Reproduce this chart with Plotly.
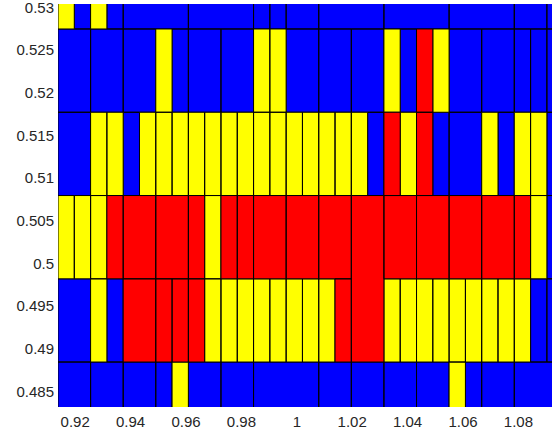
import plotly.graph_objects as go

# Fine grid edges (data units)
x_edges = [0.91379, 0.91967, 0.92556, 0.93144, 0.93732, 0.94321, 0.94909, 0.95497,
           0.96085, 0.96674, 0.97262, 0.97850, 0.98439, 0.99027, 0.99615, 1.00204,
           1.00792, 1.01380, 1.01968, 1.02557, 1.03145, 1.03733, 1.04322, 1.04910,
           1.05498, 1.06087, 1.06675, 1.07263, 1.07851, 1.08440, 1.09028, 1.09616,
           1.10205]
y_edges = [0.53721, 0.52746, 0.51770, 0.50794, 0.49818, 0.48843, 0.47867]

# Cells per row: (first column, number of columns, state)   B=blue, Y=yellow, R=red
row_0 = [(0, 1, 'Y'), (1, 1, 'B'), (2, 1, 'Y'), (3, 1, 'B'), (4, 4, 'B'), (8, 4, 'B'),
         (12, 1, 'B'), (13, 1, 'B'), (14, 2, 'B'), (16, 4, 'B'), (20, 4, 'B'),
         (24, 4, 'B'), (28, 2, 'B'), (30, 2, 'B')]
row_1 = [(0, 2, 'B'), (2, 2, 'B'), (4, 2, 'B'), (6, 1, 'Y'), (7, 1, 'B'), (8, 2, 'B'),
         (10, 2, 'B'), (12, 1, 'Y'), (13, 1, 'Y'), (14, 2, 'B'), (16, 2, 'B'),
         (18, 2, 'B'), (20, 1, 'Y'), (21, 1, 'B'), (22, 1, 'R'), (23, 1, 'Y'),
         (24, 2, 'B'), (26, 2, 'B'), (28, 1, 'B'), (29, 1, 'B'), (30, 2, 'B')]
row_2 = [(0, 2, 'B'), (2, 1, 'Y'), (3, 1, 'Y'), (4, 1, 'B'), (5, 1, 'Y'), (6, 1, 'Y'),
         (7, 1, 'Y'), (8, 1, 'Y'), (9, 1, 'Y'), (10, 1, 'Y'), (11, 1, 'Y'), (12, 1, 'Y'),
         (13, 1, 'Y'), (14, 1, 'Y'), (15, 1, 'Y'), (16, 1, 'Y'), (17, 1, 'Y'),
         (18, 1, 'Y'), (19, 1, 'B'), (20, 1, 'R'), (21, 1, 'Y'), (22, 1, 'R'),
         (23, 1, 'B'), (24, 2, 'B'), (26, 1, 'Y'), (27, 1, 'B'), (28, 1, 'Y'),
         (29, 1, 'Y'), (30, 2, 'B')]
row_3 = [(0, 1, 'Y'), (1, 1, 'Y'), (2, 1, 'Y'), (3, 1, 'R'), (4, 2, 'R'), (6, 2, 'R'),
         (8, 1, 'R'), (9, 1, 'Y'), (10, 1, 'R'), (11, 1, 'R'), (12, 2, 'R'), (14, 2, 'R'),
         (16, 2, 'R'), (20, 2, 'R'), (22, 2, 'R'), (24, 2, 'R'), (26, 2, 'R'),
         (28, 1, 'R'), (29, 1, 'Y'), (30, 2, 'B')]
row_4 = [(0, 2, 'B'), (2, 1, 'Y'), (3, 1, 'B'), (4, 2, 'R'), (6, 1, 'R'), (7, 1, 'R'),
         (8, 1, 'R'), (9, 1, 'Y'), (10, 1, 'Y'), (11, 1, 'Y'), (12, 1, 'Y'), (13, 1, 'Y'),
         (14, 1, 'Y'), (15, 1, 'Y'), (16, 1, 'Y'), (17, 1, 'R'), (20, 1, 'Y'),
         (21, 1, 'Y'), (22, 1, 'Y'), (23, 1, 'Y'), (24, 1, 'Y'), (25, 1, 'Y'),
         (26, 1, 'Y'), (27, 1, 'Y'), (28, 1, 'Y'), (29, 1, 'B'), (30, 2, 'B')]
row_5 = [(0, 2, 'B'), (2, 2, 'B'), (4, 2, 'B'), (6, 1, 'B'), (7, 1, 'Y'), (8, 2, 'B'),
         (10, 2, 'B'), (12, 4, 'B'), (16, 2, 'B'), (18, 2, 'B'), (20, 2, 'B'),
         (22, 2, 'B'), (24, 1, 'Y'), (25, 1, 'B'), (26, 2, 'B'), (28, 4, 'B')]
# Cells spanning two rows: (first row, first column, number of columns, state)
tall_cells = [(3, 18, 2, 'R')]

x_tick_vals = [0.92, 0.94, 0.96, 0.98, 1.0, 1.02, 1.04, 1.06, 1.08]
x_tick_text = ["0.92", "0.94", "0.96", "0.98", "1", "1.02", "1.04", "1.06", "1.08"]
y_tick_vals = [0.485, 0.49, 0.495, 0.5, 0.505, 0.51, 0.515, 0.52, 0.525, 0.53]
y_tick_text = ["0.485", "0.49", "0.495", "0.5", "0.505", "0.51", "0.515", "0.52",
               "0.525", "0.53"]

colors = {'B': '#0000FF', 'Y': '#FFFF00', 'R': '#FF0000'}

polys = {k: ([], []) for k in colors}


def add_cell(r, c, nc, nr, s):
    x0, x1 = x_edges[c], x_edges[c + nc]
    y0, y1 = y_edges[r], y_edges[r + nr]
    px, py = polys[s]
    px.extend([x0, x1, x1, x0, x0, None])
    py.extend([y0, y0, y1, y1, y0, None])


for r, row in enumerate([row_0, row_1, row_2, row_3, row_4, row_5]):
    for (c, nc, s) in row:
        add_cell(r, c, nc, 1, s)
for (r, c, nc, s) in tall_cells:
    add_cell(r, c, nc, 2, s)

fig = go.Figure()
for s, col in colors.items():
    px, py = polys[s]
    fig.add_trace(go.Scatter(x=px, y=py, mode='lines', fill='toself', fillcolor=col,
                             line=dict(color='black', width=1), hoverinfo='skip',
                             showlegend=False))

fig.update_layout(
    width=552, height=434,
    margin=dict(l=58, r=0, t=4, b=27, pad=0),
    paper_bgcolor='white', plot_bgcolor='white',
    font=dict(family='Liberation Sans, Arial, sans-serif', size=15, color='#262626'),
    xaxis=dict(range=[0.91379, 1.09213], tickvals=x_tick_vals, ticktext=x_tick_text,
               showgrid=False, zeroline=False, ticks='', showline=False,
               ticklabelstandoff=4, automargin=False, ticklabeloverflow='allow'),
    yaxis=dict(range=[0.483159, 0.530387], tickvals=y_tick_vals, ticktext=y_tick_text,
               showgrid=False, zeroline=False, ticks='', showline=False,
               ticklabelstandoff=3, automargin=False, ticklabeloverflow='allow'),
)

fig.write_html(
    "out.html",
    config={'displayModeBar': False},
    post_script="document.body.style.margin='0';document.body.style.overflow='hidden';",
)
